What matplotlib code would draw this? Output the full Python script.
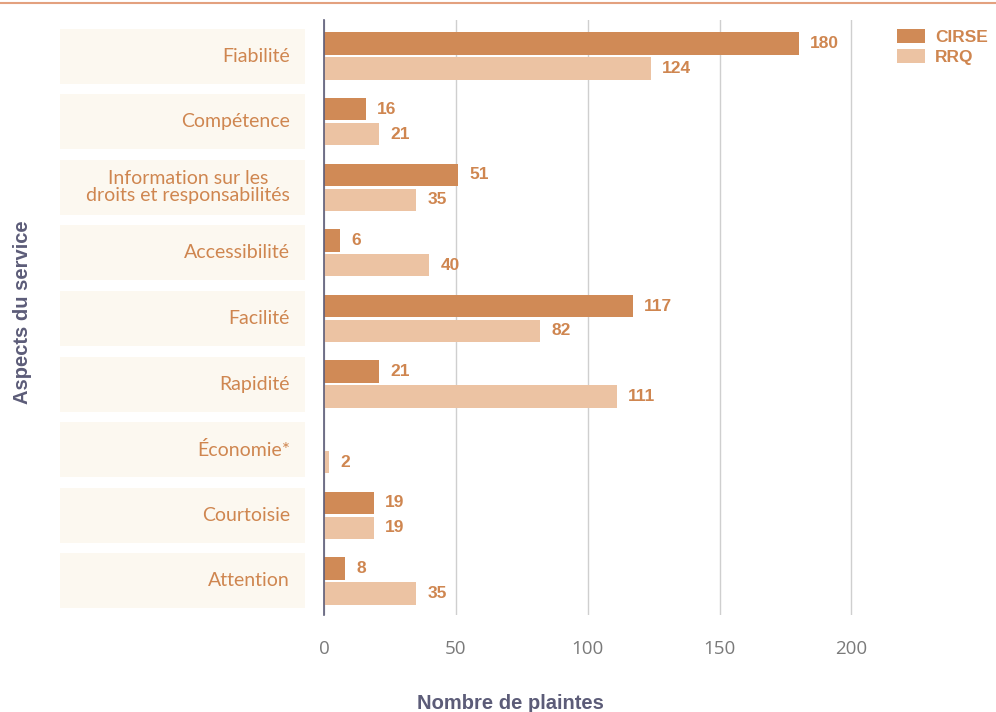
import numpy as np
import matplotlib
matplotlib.use("Agg")
import matplotlib.pyplot as plt
from matplotlib.patches import Rectangle
from matplotlib.lines import Line2D
from matplotlib.transforms import blended_transform_factory

# Données : nombre de plaintes par aspect du service
aspects = ["Fiabilité", "Compétence", "Information sur les\ndroits et responsabilités",
           "Accessibilité", "Facilité", "Rapidité", "Économie*", "Courtoisie", "Attention"]
cirse = [180, 16, 51, 6, 117, 21, None, 19, 8]
rrq = [124, 21, 35, 40, 82, 111, 2, 19, 35]
xticks = [0, 50, 100, 150, 200]

c_cirse = "#d08a56"
c_rrq = "#ecc3a3"
c_texte = "#cf8650"
c_axe = "#5c5c78"

fig = plt.figure(figsize=(9.96, 7.12), dpi=100)
ax = fig.add_axes([324 / 996, 1 - 615 / 712, (891 - 324) / 996, (615 - 20) / 712])

pos = np.arange(len(aspects))
h = 0.34
off = 0.19

y_c = [p - off for p, v in zip(pos, cirse) if v is not None]
v_c = [v for v in cirse if v is not None]
ax.barh(y_c, v_c, height=h, color=c_cirse, label="CIRSE", zorder=3)
ax.barh(pos + off, rrq, height=h, color=c_rrq, label="RRQ", zorder=3)

# valeurs au bout des barres
for y, v in zip(y_c, v_c):
    ax.annotate(str(v), (v, y), xytext=(8, 0), textcoords="offset points",
                va="center", ha="left", fontsize=12.5, fontweight="bold",
                color=c_texte, family="Liberation Sans")
for y, v in zip(pos + off, rrq):
    ax.annotate(str(v), (v, y), xytext=(8, 0), textcoords="offset points",
                va="center", ha="left", fontsize=12.5, fontweight="bold",
                color=c_texte, family="Liberation Sans")

ax.set_xlim(0, 215)
ax.set_ylim(8.52, -0.55)
ax.set_xticks(xticks)
ax.set_yticks([])
ax.tick_params(axis="x", length=0, pad=18, labelsize=13.5, labelcolor="#7a7a7a")
for lab in ax.get_xticklabels():
    lab.set_family("Open Sans")
ax.grid(axis="x", color="#cfcfcf", linewidth=1, zorder=0)
for s in ["top", "right", "bottom"]:
    ax.spines[s].set_visible(False)
ax.spines["left"].set_color(c_axe)
ax.spines["left"].set_linewidth(1.2)
ax.spines["left"].set_zorder(4)

# étiquettes des catégories sur fond crème
tr = blended_transform_factory(fig.transFigure, ax.transData)
for p, nom in zip(pos, aspects):
    fig.patches.append(Rectangle((60 / 996, p - 0.42), (305 - 60) / 996, 0.84,
                                 transform=tr, facecolor="#fcf8f0", edgecolor="none",
                                 zorder=0))
    fig.text(290 / 996, p, nom, transform=tr, ha="right", va="center",
             multialignment="center", fontsize=14, color=c_texte, family="Lato",
             linespacing=1.0)

ax.set_xlabel("Nombre de plaintes", fontsize=14.5, fontweight="bold", color=c_axe,
              family="Liberation Sans")
ax.xaxis.set_label_coords((510 - 324) / (891 - 324), -0.133)
fig.text(22 / 996, 1 - 312 / 712, "Aspects du service", rotation=90, ha="center",
         va="center", fontsize=14.5, fontweight="bold", color=c_axe,
         family="Liberation Sans")

leg = ax.legend(loc="upper left", bbox_to_anchor=(897 / 996, 1 - 29 / 712),
                bbox_transform=fig.transFigure, frameon=False, fontsize=12.5,
                handlelength=1.6, handleheight=0.9, handletextpad=0.6,
                labelspacing=0.2, borderpad=0, borderaxespad=0)
for t in leg.get_texts():
    t.set_color(c_texte)
    t.set_fontweight("bold")
    t.set_family("Liberation Sans")

# filet orangé en haut de page
fig.add_artist(Line2D([0, 1], [1 - 3 / 712, 1 - 3 / 712], transform=fig.transFigure,
                      color="#e3a17f", linewidth=1.5))

fig.savefig("out.png", dpi=100, facecolor="white")
